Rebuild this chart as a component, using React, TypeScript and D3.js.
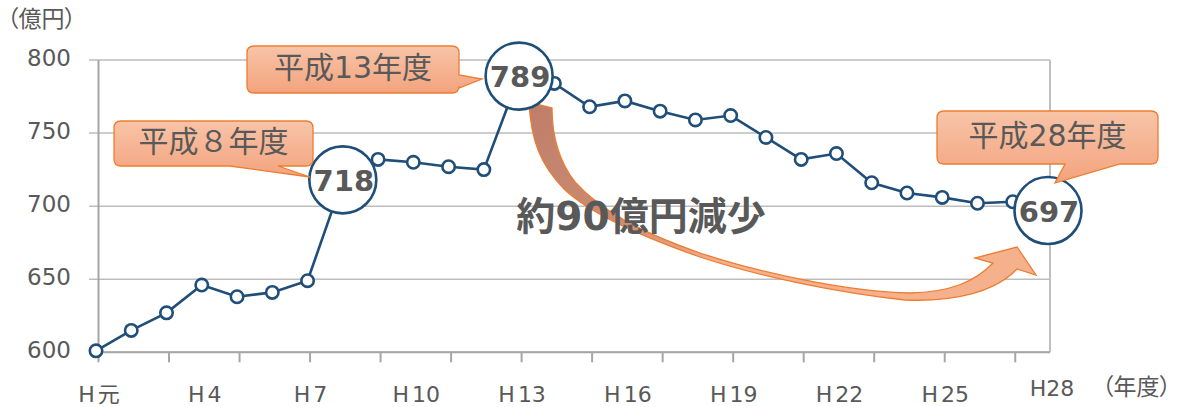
import React from 'react';
import * as d3 from 'd3';

const years = ['H元','H2','H3','H4','H5','H6','H7','H8','H9','H10','H11','H12','H13','H14','H15','H16','H17','H18','H19','H20','H21','H22','H23','H24','H25','H26','H27','H28'];
const budget = [601,615,627,646,638,641,649,718,732,730,727,725,789,784,768,772,765,759,762,747,732,736,716,709,706,702,703,697];
const yTicks = [600,650,700,750,800];
const labelYears = ['H元','H4','H7','H10','H13','H16','H19','H22','H25'];
const lastYearLabel = 'H28';
const highlightYears = ['H8','H13','H28'];
const calloutTexts = ['平成８年度','平成13年度','平成28年度'];
const unitLabel = '（億円）';
const xUnitLabel = '（年度）';
const summaryText = '約90億円減少';

const FONT = "'DejaVu Sans', 'Noto Sans CJK JP', sans-serif";
const TXT = '#595959';
const BLUE = '#1F4E79';
const ORANGE = '#ED7D31';

function calloutPath(x0: number, y0: number, x1: number, y1: number, r: number, side: string, a: number, b: number, tx: number, ty: number) {
  let p = `M${x0 + r},${y0} H${x1 - r} Q${x1},${y0} ${x1},${y0 + r}`;
  if (side === 'right') p += ` V${a} L${tx},${ty} L${x1},${b}`;
  p += ` V${y1 - r} Q${x1},${y1} ${x1 - r},${y1}`;
  if (side === 'bottom') p += ` H${b} L${tx},${ty} L${a},${y1}`;
  p += ` H${x0 + r} Q${x0},${y1} ${x0},${y1 - r} V${y0 + r} Q${x0},${y0} ${x0 + r},${y0} Z`;
  return p;
}

function HLabel({ s, x, y }: { s: string; x: number; y: number }) {
  return (
    <text x={x} y={y} textAnchor="middle" fontSize={22} fill={TXT} fontFamily={FONT}>
      <tspan>{s.slice(0, 1)}</tspan>
      <tspan dx={3}>{s.slice(1)}</tspan>
    </text>
  );
}

export default function App() {
  const W = 1180, H = 407;
  const x = d3.scalePoint<string>().domain(years).range([96, 1048]);
  const y = d3.scaleLinear().domain([600, 800]).range([352.3, 60]);
  const axisX = 98.5;
  const plotRight = 1050;
  const line = d3.line<number>().x((_, i) => x(years[i]) as number).y((d) => y(d));
  const tickIdx = years.map((_, i) => i).filter((i) => i % 2 === 0);

  const callouts = [
    { box: [114, 121, 313, 166], side: 'bottom', a: 230, b: 278, tip: [310, 177] },
    { box: [247, 46, 459, 93], side: 'right', a: 75, b: 88, tip: [482, 79] },
    { box: [937, 111, 1158, 164], side: 'bottom', a: 1065, b: 1120, tip: [1055, 183] },
  ];

  const arrowPath =
    'M552,108 C552,135 558,160 575,182 C600,210 640,232 700,253 C760,273 850,292 910,293 C950,292 975,282 993,263 ' +
    'L975,258 L1017,247 L1036,275 L1017,269 ' +
    'C995,292 955,302 905,300 C840,293 760,277 700,257 C640,236 590,213 565,190 C540,165 531,140 529,102 Z';

  return (
    <svg width={W} height={H} style={{ position: 'absolute', left: 0, top: 0, background: '#fff' }}>
      <defs>
        <linearGradient id="boxGrad" x1="0" y1="0" x2="0" y2="1">
          <stop offset="0" stopColor="#F8C4A8" />
          <stop offset="1" stopColor="#F3A37D" />
        </linearGradient>
        <linearGradient id="arrowGrad" gradientUnits="userSpaceOnUse" x1={540} y1={110} x2={720} y2={270}>
          <stop offset="0" stopColor="#BF7F69" />
          <stop offset="0.55" stopColor="#CC8D74" />
          <stop offset="1" stopColor="#F5B08C" />
        </linearGradient>
      </defs>

      {/* unit label */}
      <text x={7} y={27} fontSize={23} fill={TXT} fontFamily={FONT} style={{ fontFeatureSettings: '"palt"' }}>{unitLabel}</text>

      {/* grid lines */}
      {yTicks.map((t) => (
        <line key={t} x1={89} x2={plotRight} y1={y(t)} y2={y(t)} stroke="#BDBDBD" strokeWidth={1.5} />
      ))}
      {/* right border */}
      <line x1={plotRight} x2={plotRight} y1={y(800)} y2={y(600)} stroke="#BFBFBF" strokeWidth={2} />
      {/* y axis */}
      <line x1={axisX} x2={axisX} y1={y(800)} y2={y(600) + 1} stroke="#A6A6A6" strokeWidth={2} />
      {/* x axis */}
      <line x1={axisX} x2={plotRight} y1={y(600)} y2={y(600)} stroke="#A6A6A6" strokeWidth={2} />
      {tickIdx.map((i) => (
        <line key={i} x1={(x(years[i]) as number) + 2.5} x2={(x(years[i]) as number) + 2.5} y1={y(600)} y2={y(600) + 10} stroke="#A6A6A6" strokeWidth={2} />
      ))}

      {/* y tick labels */}
      {yTicks.map((t) => (
        <text key={t} x={71} y={y(t) + 6} textAnchor="end" fontSize={23} fill={TXT} fontFamily={FONT}>{t}</text>
      ))}

      {/* x labels */}
      {labelYears.map((s) => (
        <HLabel key={s} s={s} x={(x(s) as number) + 3} y={402} />
      ))}
      <text x={(x(lastYearLabel) as number) + 4} y={396} textAnchor="middle" fontSize={22} fill={TXT} fontFamily={FONT}>{lastYearLabel}</text>
      <text x={1102} y={395} fontSize={23} fill={TXT} fontFamily={FONT} style={{ fontFeatureSettings: '"palt"' }}>{xUnitLabel}</text>

      {/* arrow */}
      <path d={arrowPath} fill="url(#arrowGrad)" stroke={ORANGE} strokeWidth={1.3} strokeLinejoin="miter" />

      {/* summary text */}
      <text x={641} y={216} textAnchor="middle" dominantBaseline="central" fontSize={39} fontWeight="bold" fill={TXT} fontFamily={FONT}>{summaryText}</text>

      {/* data line */}
      <path d={line(budget) || ''} fill="none" stroke={BLUE} strokeWidth={2.6} />
      {budget.map((v, i) => (
        <circle key={i} cx={x(years[i]) as number} cy={y(v)} r={6.2} fill="#fff" stroke={BLUE} strokeWidth={2.6} />
      ))}

      {/* highlight circles */}
      {highlightYears.map((yr) => {
        const i = years.indexOf(yr);
        const cx = x(yr) as number;
        const cy = y(budget[i]);
        return (
          <g key={yr}>
            <circle cx={cx} cy={cy} r={33.5} fill="#fff" stroke={BLUE} strokeWidth={2.6} />
            <text x={cx + 1} y={cy + 1} textAnchor="middle" dominantBaseline="central" fontSize={29} fontWeight="bold" fill={TXT} fontFamily={FONT}>{budget[i]}</text>
          </g>
        );
      })}

      {/* callouts */}
      {callouts.map((c, k) => {
        const [x0, y0, x1, y1] = c.box;
        return (
          <g key={k}>
            <path d={calloutPath(x0, y0, x1, y1, 7, c.side, c.a, c.b, c.tip[0], c.tip[1])} fill="url(#boxGrad)" stroke={ORANGE} strokeWidth={1.3} />
            <text x={(x0 + x1) / 2} y={(y0 + y1) / 2 - 2} textAnchor="middle" dominantBaseline="central" fontSize={30} fill={TXT} fontFamily={FONT}>{calloutTexts[k]}</text>
          </g>
        );
      })}
    </svg>
  );
}
